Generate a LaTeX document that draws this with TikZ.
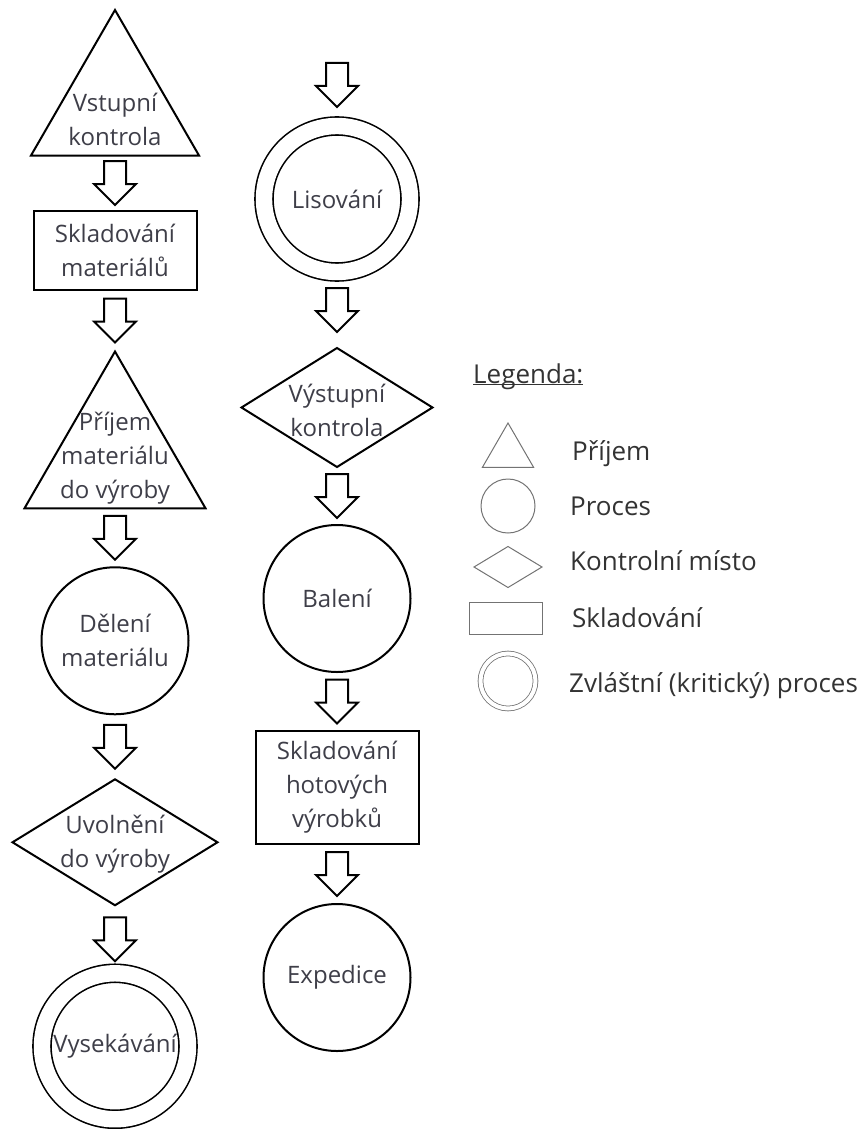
\documentclass[tikz,border=0pt]{standalone}
\usepackage{fontspec}
\setmainfont{Open Sans}
\usepackage{tikz}
\definecolor{textgray}{RGB}{62,62,72}
\definecolor{legendgray}{RGB}{115,115,115}
\usetikzlibrary{shapes.geometric, positioning, calc}

% block arrow centred between two points
\newcommand{\flowarrow}[2]{%
  \coordinate (m) at ($(#1)!0.5!(#2)$);
  \draw[blockarrow] ($(m)+(-11,-22)$) -- ($(m)+(11,-22)$) -- ($(m)+(11,1)$) -- ($(m)+(21,1)$)
    -- ($(m)+(0,22)$) -- ($(m)+(-21,1)$) -- ($(m)+(-11,1)$) -- cycle;}

\begin{document}
\begin{tikzpicture}[
        x=1pt, y=-1pt,
        every node/.style={font=\fontsize{24}{34}\selectfont, text=textgray},
        tri/.style={regular polygon, regular polygon sides=3, draw, line width=2pt, inner sep=0pt, outer sep=0pt},
        proc/.style={circle, draw, line width=2pt, minimum size=147, inner sep=0pt, outer sep=0pt, align=center},
        check/.style={diamond, draw, line width=2pt, inner sep=0pt, outer sep=0pt},
        store/.style={rectangle, draw, line width=2pt, minimum width=163, inner sep=0pt, outer sep=0pt, align=center},
        crit/.style={circle, draw, double, line width=1.6pt, double distance=16.4pt, minimum size=146, inner sep=0pt, outer sep=0pt, align=center},
        lbl/.style={align=center, inner sep=0pt},
        blockarrow/.style={draw, line width=2pt, line join=miter, fill=white},
        leg/.style={draw=legendgray, line width=1pt, inner sep=0pt, outer sep=0pt},
        legtxt/.style={anchor=base west, inner sep=0pt, font=\fontsize{26}{30}\selectfont, text=black!80}
    ]
        \useasboundingbox (0,0) rectangle (866,1129);

        % Left column
        \node[tri, minimum size=194] (vstup) at (115,107) {};
        \node[store, minimum height=79, below=55pt of vstup] (sklad) {Skladování\\materiálů};
        \node[tri, minimum size=209, below=62pt of sklad] (prijem) {};
        \node[proc, below=59pt of prijem] (deleni) {Dělení\\materiálu};
        \node[check, minimum width=205, minimum height=126, below=65pt of deleni] (uvol) {};
        \node[crit, below=68pt of uvol] (vysek) {Vysekávání};

        \node[lbl] (vstup-t) at ([yshift=-12pt]vstup.center) {Vstupní\\kontrola};
        \node[lbl] (prijem-t) at ([yshift=-2pt]prijem.center) {Příjem\\materiálu\\do výroby};
        \node[lbl] (uvol-t) at ([yshift=-2pt]uvol.center) {Uvolnění\\do výroby};

        % Right column
        \node[crit] (lis) at (337,199) {Lisování};
        \node[check, minimum width=191, minimum height=119, below=76pt of lis] (vystup) {};
        \node[proc, below=58pt of vystup] (baleni) {Balení};
        \node[store, minimum height=113, below=59pt of baleni] (skladhot) {Skladování\\hotových\\výrobků};
        \node[proc, below=60pt of skladhot] (exped) {Expedice};
        \coordinate[above=82pt of lis] (vstupvpravo);

        \node[lbl] (vystup-t) at ([yshift=-3pt]vystup.center) {Výstupní\\kontrola};

        % Flow
        \flowarrow{vstup.south}{sklad.north}
        \flowarrow{sklad.south}{prijem.north}
        \flowarrow{prijem.south}{deleni.north}
        \flowarrow{deleni.south}{uvol.north}
        \flowarrow{uvol.south}{vysek.north}
        \flowarrow{vstupvpravo}{lis.north}
        \flowarrow{lis.south}{vystup.north}
        \flowarrow{vystup.south}{baleni.north}
        \flowarrow{baleni.south}{skladhot.north}
        \flowarrow{skladhot.south}{exped.north}

        % Legend
        \node[legtxt] (legenda) at (473,383) {\underline{\smash{Legenda:}}};
        \node[leg, regular polygon, regular polygon sides=3, minimum size=59] (l-tri) at (508,452.5) {};
        \node[leg, circle, minimum size=54] (l-proc) at (508,506) {};
        \node[leg, diamond, minimum width=68, minimum height=41] (l-check) at (508,567) {};
        \node[leg, rectangle, minimum width=73, minimum height=32] (l-store) at (505.5,618) {};
        \node[leg, circle, double, double distance=4pt, line width=0.8pt, minimum size=55] (l-crit) at (508,681) {};

        \node[legtxt] (t-tri) at (572,460.7) {Příjem};
        \node[legtxt] (t-proc) at (570,515) {Proces};
        \node[legtxt] (t-check) at (570,570) {Kontrolní místo};
        \node[legtxt] (t-store) at (572,627) {Skladování};
        \node[legtxt] (t-crit) at (569,692) {Zvláštní (kritický) proces};

    \end{tikzpicture}
\end{document}
